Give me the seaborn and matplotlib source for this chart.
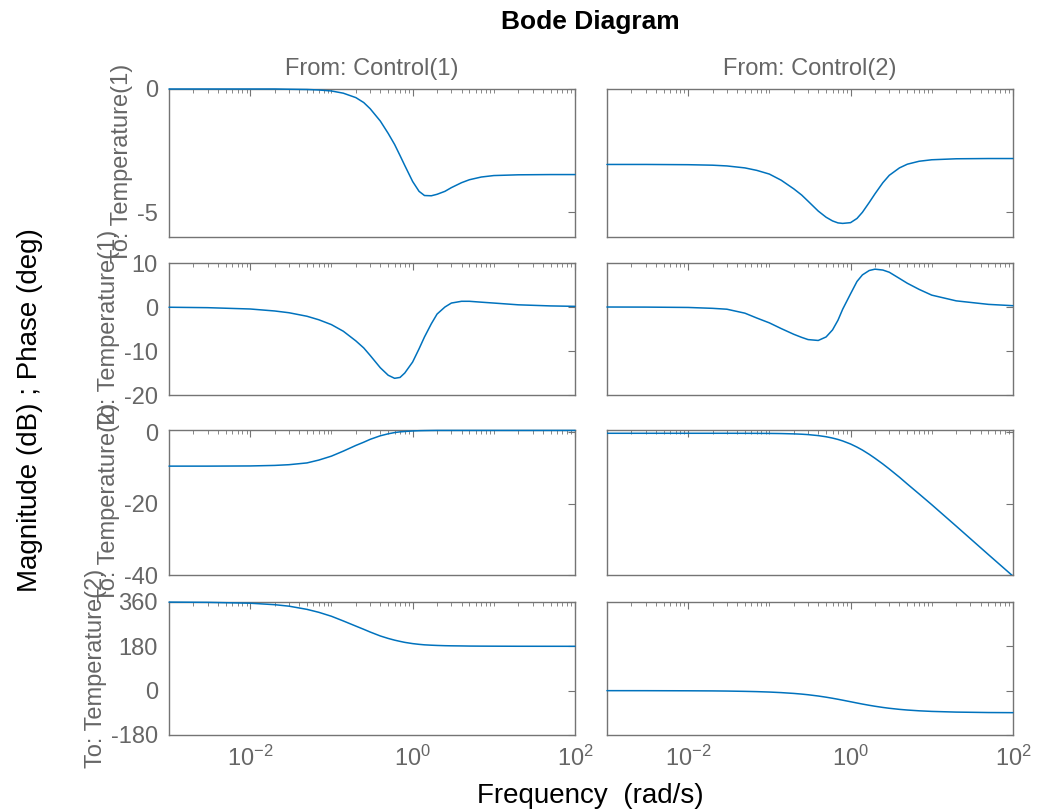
import numpy as np
import pandas as pd
import matplotlib
matplotlib.use("Agg")
import matplotlib.pyplot as plt
import matplotlib.ticker as mticker
import seaborn as sns

# frequency grid (rad/s) and values
freq = [0.001, 0.003, 0.01, 0.02, 0.03, 0.05, 0.07, 0.1, 0.14, 0.2, 0.25, 0.3,
        0.4, 0.5, 0.6, 0.7, 0.8, 1.0, 1.2, 1.4, 1.7, 2.0, 2.5, 3.0, 4.0, 5.0,
        7.0, 10.0, 20.0, 50.0, 100.0]

# To: Temperature(1), magnitude (dB)
mag_t1_c1 = [0, 0, 0, 0, -0.01, -0.02, -0.04, -0.08, -0.17, -0.35, -0.55, -0.8,
             -1.3, -1.8, -2.25, -2.7, -3.1, -3.75, -4.15, -4.32, -4.33, -4.27, -4.15,
             -4.0, -3.8, -3.68, -3.57, -3.51, -3.48, -3.47, -3.47]
mag_t1_c2 = [-3.06, -3.06, -3.07, -3.09, -3.12, -3.2, -3.3, -3.45, -3.7, -4.05, -4.3,
             -4.55, -4.95, -5.2, -5.35, -5.43, -5.45, -5.42, -5.25, -5.0, -4.6, -4.25,
             -3.8, -3.5, -3.2, -3.05, -2.93, -2.87, -2.83, -2.82, -2.82]

# To: Temperature(1), phase (deg)
phase_t1_c1 = [-0.05, -0.15, -0.45, -0.9, -1.3, -2.1, -2.9, -4.0, -5.5, -7.7, -9.3,
               -11.0, -13.8, -15.5, -16.2, -16.0, -15.0, -12.5, -9.5, -6.8, -3.8, -1.6,
               0.0, 0.9, 1.3, 1.3, 1.1, 0.9, 0.5, 0.25, 0.15]
phase_t1_c2 = [0, -0.02, -0.1, -0.3, -0.5, -1.4, -2.5, -3.6, -4.9, -6.2, -6.9, -7.4,
               -7.6, -6.8, -5.2, -3.0, -0.5, 3.0, 5.8, 7.3, 8.3, 8.6, 8.4, 7.9, 6.5,
               5.4, 4.0, 2.7, 1.4, 0.6, 0.3]

# To: Temperature(2), magnitude (dB)
mag_t2_c1 = [-9.5, -9.5, -9.45, -9.3, -9.1, -8.6, -7.8, -6.7, -5.3, -3.7, -2.8, -2.0,
             -1.0, -0.45, -0.1, 0.1, 0.2, 0.35, 0.42, 0.45, 0.48, 0.5, 0.5, 0.5, 0.5,
             0.5, 0.5, 0.5, 0.5, 0.5, 0.5]
mag_t2_c2 = [-0.3, -0.3, -0.3, -0.3, -0.3, -0.31, -0.32, -0.34, -0.38, -0.47, -0.56,
             -0.67, -0.95, -1.27, -1.64, -2.03, -2.45, -3.3, -4.17, -5.0, -6.2, -7.3,
             -8.9, -10.3, -12.6, -14.5, -17.3, -20.3, -26.3, -34.3, -40.3]

# To: Temperature(2), phase (deg)
phase_t2_c1 = [359.5, 358.5, 355, 349, 343, 330, 318, 302, 283, 262, 249, 238, 222,
               212, 205, 200, 196, 191, 188, 186, 184.5, 183.5, 182.5, 182, 181.5, 181,
               180.7, 180.5, 180.2, 180.1, 180]
phase_t2_c2 = [-0.06, -0.17, -0.6, -1.1, -1.7, -2.9, -4.0, -5.7, -8.0, -11.3, -14.0,
               -16.7, -21.8, -26.6, -31.0, -35.0, -38.7, -45, -50.2, -54.5, -59.5, -63.4,
               -68.2, -71.6, -76, -78.7, -81.9, -84.3, -87.1, -88.9, -89.4]

inputs = ["From: Control(1)", "From: Control(2)"]
outputs = ["To: Temperature(1)", "To: Temperature(1)",
           "To: Temperature(2)", "To: Temperature(2)"]
row_data = [(mag_t1_c1, mag_t1_c2), (phase_t1_c1, phase_t1_c2),
            (mag_t2_c1, mag_t2_c2), (phase_t2_c1, phase_t2_c2)]
row_ylim = [(-6, 0), (-20, 10), (-40, 0.6), (-180, 360)]
row_yticks = [[-5, 0], [-20, -10, 0, 10], [-40, -20, 0], [-180, 0, 180, 360]]

sns.set_theme(style="white")
plt.rcParams["font.family"] = ["Liberation Sans", "DejaVu Sans"]
plt.rcParams["mathtext.default"] = "regular"
plt.rcParams["axes.unicode_minus"] = False

line_color = "#0072BD"
gray = "#666666"
spine_gray = "#747474"

fig = plt.figure(figsize=(10.37, 8.09), dpi=100)

col_x = [0.163, 0.5853]
col_w = 0.3915
row_pos = [(0.7071, 0.1829), (0.5117, 0.1632), (0.2892, 0.1792), (0.0915, 0.1644)]

for r, (bottom, height) in enumerate(row_pos):
    for c in range(2):
        ax = fig.add_axes([col_x[c], bottom, col_w, height])
        df = pd.DataFrame({"freq": freq, "value": row_data[r][c]})
        sns.lineplot(data=df, x="freq", y="value", ax=ax, color=line_color,
                     linewidth=1.1, zorder=5)
        ax.set_xscale("log")
        ax.set_xlim(1e-3, 1e2)
        ax.set_ylim(*row_ylim[r])
        # let curves that sit on the frame edge show over the spine
        lo, hi = row_ylim[r]
        if min(row_data[r][c]) >= lo:
            for ln in ax.get_lines():
                ln.set_clip_on(False)
        ax.set_yticks(row_yticks[r])
        ax.set_xticks([1e-2, 1e0, 1e2])
        ax.xaxis.set_minor_locator(
            mticker.LogLocator(base=10, subs=np.arange(1, 10), numticks=20))
        ax.xaxis.set_minor_formatter(mticker.NullFormatter())
        ax.xaxis.set_major_formatter(mticker.LogFormatterMathtext())
        ax.tick_params(which="both", direction="in", top=True, right=True,
                       colors=spine_gray, labelcolor=gray, labelsize=17, pad=8)
        ax.tick_params(which="major", length=5, width=0.8)
        ax.tick_params(which="minor", length=3, width=0.6)
        for sp in ax.spines.values():
            sp.set_color(spine_gray)
            sp.set_linewidth(1.0)
        ax.set_xlabel("")
        if c == 0:
            ax.set_ylabel(outputs[r], color=gray, fontsize=17, labelpad=3)
        else:
            ax.set_ylabel("")
            ax.set_yticklabels([])
        if r < 3:
            ax.set_xticklabels([])
        if r == 0:
            ax.text(0.5, 1.06, inputs[c], transform=ax.transAxes, ha="center",
                    va="bottom", fontsize=17, color=gray)

fig.text(0.569, 0.973, "Bode Diagram", ha="center", va="center",
         fontsize=19, fontweight="bold", color="black")
fig.text(0.569, 0.016, "Frequency  (rad/s)", ha="center", va="center",
         fontsize=20, color="black")
fig.text(0.029, 0.493, "Magnitude (dB) ; Phase (deg)", ha="center", va="center",
         rotation=90, fontsize=20, color="black")

fig.savefig("out.png", dpi=100)
